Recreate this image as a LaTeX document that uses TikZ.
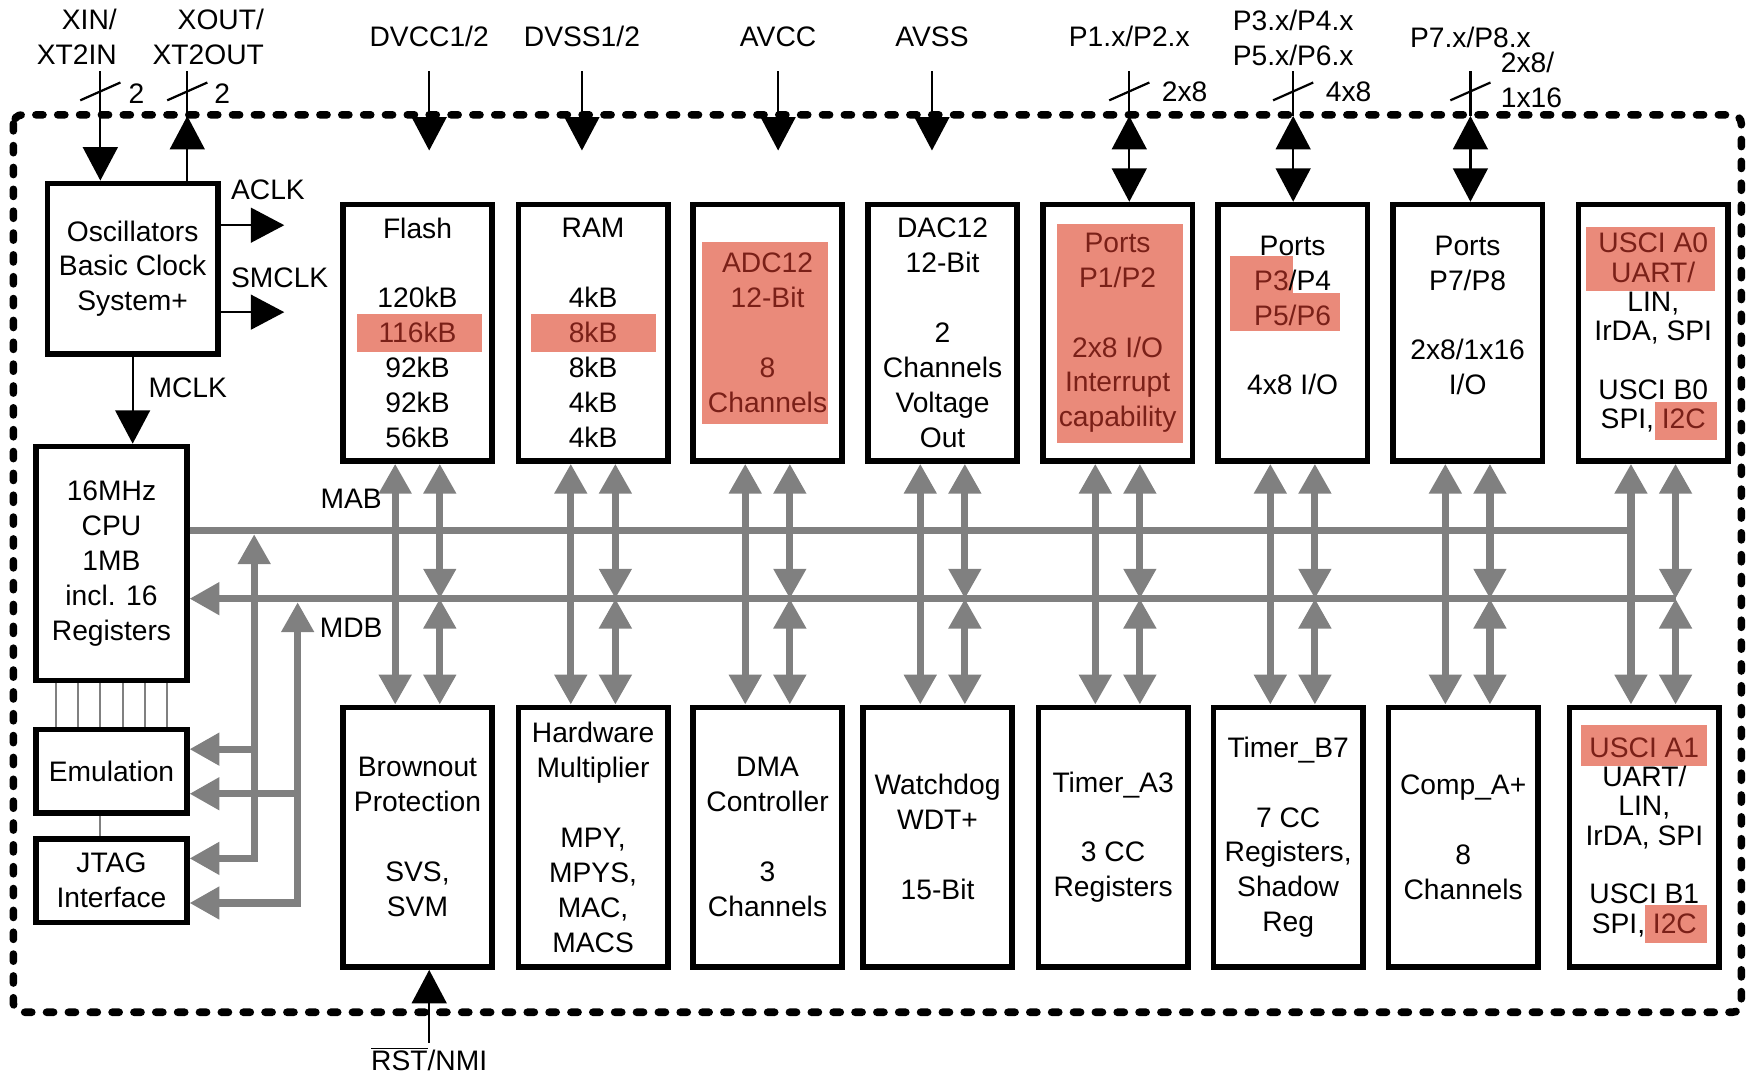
\documentclass[tikz,border=0pt]{standalone}
\usepackage{fontspec}
\setmainfont{Liberation Sans}
\usetikzlibrary{arrows.meta}

\definecolor{busgray}{RGB}{128,128,128}
\definecolor{hlfill}{RGB}{234,138,122}
\definecolor{hltext}{RGB}{122,32,24}
\newcommand{\hl}[1]{\textcolor{hltext}{#1}}

\begin{document}
\begin{tikzpicture}[x=0.25mm, y=-0.25mm,
	font=\fontsize{18}{22.3}\selectfont,
	lbl/.style={inner sep=1mm, align=center},
	blk/.style={draw, line width=1.25mm, align=center, inner sep=0pt, minimum width=33.5mm},
	topblk/.style={blk, minimum height=57.5mm},
	botblk/.style={blk, minimum height=58.25mm},
	uscitxt/.style={font=\fontsize{18}{18.7}\selectfont},
	bus/.style={line width=1.6mm, busgray, >={Triangle[width=7mm, length=6.7mm]}},
	sig/.style={line width=0.5mm, >={Triangle[width=7.8mm, length=7.5mm]}},
	thinl/.style={line width=0.4mm, busgray},
	frame/.style={line width=1.7mm, line cap=round, dash pattern=on 1.6mm off 3.3mm, rounded corners=2mm}]

	\useasboundingbox (0,0) rectangle (1568,963);

	\coordinate (sigtop) at (0,64);
	\coordinate (slash) at (0,82);
	\coordinate (frametop) at (0,104);
	\coordinate (vtip) at (0,135);
	\coordinate (mab) at (0,476);
	\coordinate (mdb) at (0,537);
	\coordinate (addr) at (228,0);
	\coordinate (data) at (267,0);
	\coordinate (clkend) at (255,0);
	\coordinate (xinc) at (90,0);
	\coordinate (xoutc) at (168,0);

	\draw[frame] (12,103) rectangle (1562,908);

	\foreach \xa/\ya/\xb/\yb in {320/282/432/316, 476/282/588/316, 630/217/743/380, 948/201/1061/397,
			1103/230/1160/263, 1103/263/1202/297, 1423/204/1538/261, 1485/361/1540/395,
			1418/650/1531/687, 1476/812/1531/846}
		\fill[hlfill] (\xa,\ya) rectangle (\xb,\yb);

	\node[blk, minimum width=38.25mm, minimum height=38.25mm] (osc) at (119,241) {Oscillators\\Basic Clock\\System+};
	\node[blk, minimum width=33.75mm, minimum height=52.5mm] (cpu) at (100,505.5) {16MHz\\CPU\\1MB\\incl. 16\\Registers};
	\node[blk, minimum width=33.75mm, minimum height=18.75mm] (emu) at (100,692) {Emulation};
	\node[blk, minimum width=33.75mm, minimum height=18.75mm] (jtag) at (100,790) {JTAG\\Interface};

	\node[topblk] (flash) at (374.5,298.5) {Flash\\ ~\\120kB\\\hl{116kB}\\92kB\\92kB\\56kB};
	\node[topblk] (ram) at (532,298.5) {RAM\\ ~\\4kB\\\hl{8kB}\\8kB\\4kB\\4kB};
	\node[topblk, text=hltext] (adc) at (688.5,298.5) {ADC12\\12-Bit\\ ~\\8\\Channels};
	\node[topblk] (dac) at (845.5,298.5) {DAC12\\12-Bit\\ ~\\2\\Channels\\Voltage\\Out};
	\node[topblk, text=hltext] (pA) at (1002.5,298.5) {Ports\\P1/P2\\ ~\\2x8 I/O\\Interrupt\\capability};
	\node[topblk] (pB) at (1159.5,298.5) {Ports\\\hl{P3}/P4\\\hl{P5/P6}\\ ~\\4x8 I/O\\ ~};
	\node[topblk] (pC) at (1316.5,298.5) {Ports\\P7/P8\\ ~\\2x8/1x16\\I/O\\ ~};
	\node[topblk, uscitxt] (ua) at (1483,298.5) {\hl{USCI A0}\\\hl{UART/}\\LIN,\\IrDA, SPI\\ ~\\USCI B0\\SPI, \hl{I2C}};

	\node[botblk] (bo) at (374.5,751) {Brownout\\Protection\\ ~\\SVS,\\SVM};
	\node[botblk] (hw) at (532,751) {Hardware\\Multiplier\\ ~\\MPY,\\MPYS,\\MAC,\\MACS};
	\node[botblk] (dma) at (688.5,751) {DMA\\Controller\\ ~\\3\\Channels};
	\node[botblk] (wdt) at (841,751) {Watchdog\\WDT+\\ ~\\15-Bit};
	\node[botblk] (tia) at (998.5,751) {Timer\_A3\\ ~\\3 CC\\Registers};
	\node[botblk] (tib) at (1155.5,751) {Timer\_B7\\ ~\\7 CC\\Registers,\\Shadow\\Reg};
	\node[botblk] (cmp) at (1312.5,751) {Comp\_A+\\ ~\\8\\Channels};
	\node[botblk, uscitxt] (ub) at (1475,751) {\hl{USCI A1}\\UART/\\LIN,\\IrDA, SPI\\ ~\\USCI B1\\SPI, \hl{I2C}};

	\node[lbl, align=right, anchor=east] (xinl) at (109,33) {XIN/\\XT2IN};
	\node[lbl, align=right, anchor=east] (xoutl) at (241,33) {XOUT/\\XT2OUT};
	\node[lbl] (dvccl) at (385,33) {DVCC1/2};
	\node[lbl] (dvssl) at (522,33) {DVSS1/2};
	\node[lbl] (avccl) at (698,33) {AVCC};
	\node[lbl] (avssl) at (836,33) {AVSS};
	\node[lbl] (pAl) at (1013,33) {P1.x/P2.x};
	\node[lbl] (pBl) at (1160,34) {P3.x/P4.x\\P5.x/P6.x};
	\node[lbl] (pCl) at (1319,34) {P7.x/P8.x};
	\node[lbl, anchor=west] (wxin) at (111,84) {2};
	\node[lbl, anchor=west] (wxout) at (188,84) {2};
	\node[lbl, anchor=west] (wpA) at (1038,82) {2x8};
	\node[lbl, anchor=west] (wpB) at (1185,82) {4x8};
	\node[lbl, anchor=west, align=left] (wpC) at (1342,72) {2x8/\\1x16};

	\node[lbl, anchor=west] (aclkl) at (203,170) {ACLK};
	\node[lbl, anchor=west] (smclkl) at (203,249) {SMCLK};
	\node[lbl, anchor=west] (mclkl) at (129,348) {MCLK};
	\node[lbl] (mabl) at (315,447) {MAB};
	\node[lbl] (mdbl) at (315,563) {MDB};
	\node[lbl] (rst) at (385,950) {$\overline{\hbox{RST}}$/NMI};

	\draw[sig, ->] (xinc |- sigtop) to (xinc |- osc.north);
	\draw[sig] (xoutc |- osc.north) to (xoutc |- sigtop);
	\draw[sig, ->] (xoutc |- osc.north) to (xoutc |- frametop);
	\foreach \p in {dvccl, dvssl, avccl, avssl}
		\draw[sig, ->] (\p |- sigtop) to (\p |- vtip);
	\foreach \p/\q in {pAl/pA, pBl/pB, pCl/pC} {
		\draw[sig] (\p |- sigtop) to (\p |- frametop);
		\draw[sig, <->] (\p |- frametop) to (\p |- \q.north);
	}
	\foreach \p in {xinc, xoutc, pAl, pBl, pCl}
		\draw[sig] (\p |- slash) ++(-18,8) to ++(36,-16);

	\draw[sig, ->] ([yshift=9.75mm]osc.east) to ([yshift=9.75mm]osc.east -| clkend);
	\draw[sig, ->] ([yshift=-9.75mm]osc.east) to ([yshift=-9.75mm]osc.east -| clkend);
	\draw[sig, ->] (osc.south) to (osc.south |- cpu.north);
	\draw[sig, ->] (rst.north) to (rst.north |- bo.south);

	\foreach \dx in {-12.5, -7.5, -2.5, 2.5, 7.5, 12.5}
		\draw[thinl] ([xshift=\dx mm]cpu.south) to ([xshift=\dx mm]cpu.south |- emu.north);
	\draw[thinl] ([xshift=-2.5mm]emu.south) to ([xshift=-2.5mm]emu.south |- jtag.north);

	\draw[bus] (cpu.east |- mab) to ([xshift=-5mm]ua.south |- mab);
	\draw[bus, ->] ([xshift=5mm]ua.south |- mdb) to (cpu.east |- mdb);
	\draw[bus, <->, shorten >=0.8mm] ([yshift=5mm]jtag.east) -| (addr |- mab);
	\draw[bus, ->] ([yshift=5mm]emu.east -| addr) to ([yshift=5mm]emu.east);
	\draw[bus, <->, shorten >=0.8mm] ([yshift=-5mm]jtag.east) -| (data |- mdb);
	\draw[bus, ->] ([yshift=-5mm]emu.east -| data) to ([yshift=-5mm]emu.east);

	\foreach \tp/\bt in {flash/bo, ram/hw, adc/dma, dac/wdt, pA/tia, pB/tib, pC/cmp, ua/ub} {
		\draw[bus, <->] ([xshift=-5mm]\tp.south) to ([xshift=-5mm]\tp.south |- \bt.north);
		\draw[bus, <->] ([xshift=5mm]\tp.south) to ([xshift=5mm]\tp.south |- mdb);
		\draw[bus, <->] ([xshift=5mm]\tp.south |- mdb) to ([xshift=5mm]\tp.south |- \bt.north);
	}
\end{tikzpicture}
\end{document}
